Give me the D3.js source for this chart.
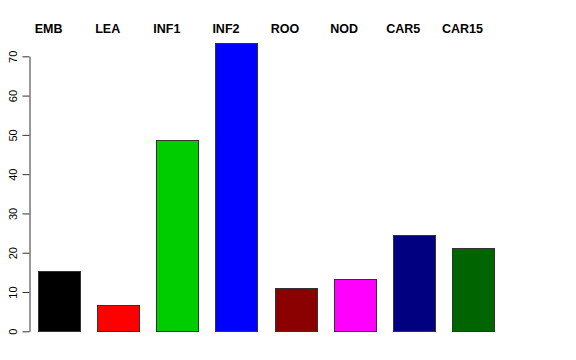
<!DOCTYPE html>
<html><head><meta charset="utf-8">
<script src="https://cdn.jsdelivr.net/npm/d3@7"></script>
<style>body{margin:0;background:#fff}</style>
</head><body>
<script>
const categories = ["EMB","LEA","INF1","INF2","ROO","NOD","CAR5","CAR15"];
const values = [15.3, 6.7, 48.7, 73.4, 10.9, 13.3, 24.5, 21.1];
const colors = ["#000000","#ff0000","#00cd00","#0000ff","#8b0000","#ff00ff","#000080","#006400"];
const yTicks = [0,10,20,30,40,50,60,70];

const W = 576, H = 360;
const svg = d3.select("body").append("svg").attr("width", W).attr("height", H);

const x = d3.scaleBand().domain(categories).range([29.5, 502.5]).paddingInner(0.29).paddingOuter(0.145);
const y = d3.scaleLinear().domain([0, 70]).range([331.3, 56.3]);

svg.selectAll("rect.bar").data(values).enter().append("rect")
  .attr("x", (d,i) => Math.round(x(categories[i])) + 0.5)
  .attr("y", d => Math.round(y(d)) + 0.5)
  .attr("width", Math.round(x.bandwidth()))
  .attr("height", d => Math.round(y(0)) - Math.round(y(d)))
  .attr("fill", (d,i) => colors[i])
  .attr("stroke", "#333").attr("stroke-width", 1);

const ax = svg.append("g").attr("transform", "translate(29.5,0)")
  .call(d3.axisLeft(y).tickValues(yTicks).tickSize(7).tickSizeOuter(0).tickPadding(10));
ax.select(".domain").attr("stroke", "#333");
ax.selectAll(".tick line").attr("stroke", "#333");
ax.selectAll(".tick text")
  .attr("font-family", "Liberation Sans, Arial, sans-serif").attr("font-size", 11).attr("fill", "#000")
  .attr("transform", "rotate(-90)").attr("x", 0).attr("y", -14).attr("dy", "0.35em").attr("text-anchor", "middle");
// place rotated labels: in rotated frame coordinates
ax.selectAll(".tick text").each(function(){
  d3.select(this).attr("x", 0).attr("y", -13).attr("dy", "0");
});

svg.selectAll("text.lab").data(categories).enter().append("text")
  .attr("x", d => x(d) + x.bandwidth()/2 - 10.5)
  .attr("y", 33)
  .attr("text-anchor", "middle")
  .attr("font-family", "Liberation Sans, Arial, sans-serif")
  .attr("font-weight", "bold").attr("font-size", 12.5)
  .text(d => d);
</script>
</body></html>
